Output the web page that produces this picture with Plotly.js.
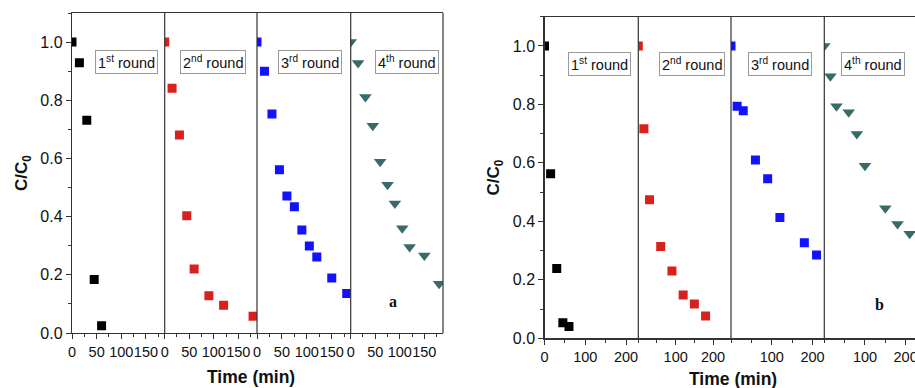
<!DOCTYPE html>
<html>
<head>
<meta charset="utf-8">
<script src="https://cdn.plot.ly/plotly-3.0.1.min.js"></script>
<style>html,body{margin:0;padding:0;background:#fff;}#chart{width:915px;height:388px;}</style>
</head>
<body>
<div id="chart"></div>
<script>
// ---- Data ----
const roundLabels = ['1<sup>st</sup> round', '2<sup>nd</sup> round', '3<sup>rd</sup> round', '4<sup>th</sup> round'];
const panelLetters = ['a', 'b'];

// Panel a
const timeA1 = [0, 15, 30, 45, 60];
const valA1 = [1.0, 0.929, 0.731, 0.184, 0.025];
const timeA2 = [0, 15, 30, 45, 60, 90, 120, 180];
const valA2 = [1.0, 0.841, 0.681, 0.403, 0.220, 0.128, 0.095, 0.058];
const timeA3 = [0, 15, 30, 45, 60, 75, 90, 105, 120, 150, 180];
const valA3 = [1.0, 0.900, 0.753, 0.561, 0.471, 0.434, 0.354, 0.299, 0.261, 0.189, 0.136];
const timeA4 = [0, 15, 30, 45, 60, 75, 90, 105, 120, 150, 180];
const valA4 = [1.0, 0.928, 0.811, 0.712, 0.589, 0.510, 0.445, 0.360, 0.296, 0.266, 0.169];

// Panel b
const timeB1 = [0, 15, 30, 45, 60];
const valB1 = [1.0, 0.563, 0.239, 0.053, 0.040];
const timeB2 = [0, 15, 30, 60, 90, 120, 150, 180];
const valB2 = [1.0, 0.717, 0.474, 0.314, 0.230, 0.148, 0.117, 0.076];
const timeB3 = [0, 15, 30, 60, 90, 120, 180, 210];
const valB3 = [1.0, 0.794, 0.778, 0.610, 0.546, 0.413, 0.327, 0.285];
const timeB4 = [0, 15, 30, 60, 80, 100, 150, 180, 210];
const valB4 = [1.0, 0.896, 0.794, 0.773, 0.699, 0.590, 0.445, 0.391, 0.358];

const yTicks = [0, 0.2, 0.4, 0.6, 0.8, 1.0];
const xTicksA = [0, 50, 100, 150];
const xTicksB1 = [0, 100, 200];
const xTicksB = [100, 200];

// ---- Styling ----
const W = 915, H = 388;
const FONT = 'Liberation Sans, Arial, sans-serif';
const colors = ['#000000', '#d8211d', '#1212ff', '#386b68'];
const symbols = ['square', 'square', 'square', 'triangle-down'];
const sizes = [9, 9, 9, 11];
const axisColor = '#333333';

// subpanel pixel edges
const edgesA = [72, 164.7, 257, 350.7, 443];
const edgesB = [544.5, 638.3, 731, 824.3, 915];
const rangesA = [188, 188, 188, 188];
const rangesB = [230, 248, 229, 223];
const yDomA = [(H - 333) / H, (H - 13) / H];
const yDomB = [(H - 338.3) / H, (H - 16.7) / H];

const seriesA = [[timeA1, valA1], [timeA2, valA2], [timeA3, valA3], [timeA4, valA4]];
const seriesB = [[timeB1, valB1], [timeB2, valB2], [timeB3, valB3], [timeB4, valB4]];

const data = [];
const layout = {
  width: W, height: H,
  margin: {l: 0, r: 0, t: 0, b: 0},
  paper_bgcolor: '#ffffff', plot_bgcolor: '#ffffff',
  showlegend: false,
  font: {family: FONT, color: '#111111'},
  shapes: [], annotations: []
};

function xAxisDef(edges, i, range, tickvals, minorStep, yName) {
  return {
    domain: [edges[i] / W, Math.min(edges[i + 1] / W, 1)],
    range: [0, range],
    anchor: yName,
    showgrid: false, zeroline: false,
    showline: true, mirror: true, linecolor: axisColor, linewidth: 1.2,
    ticks: 'outside', ticklen: 5, tickwidth: 1, tickcolor: axisColor,
    tickvals: tickvals, tickangle: 0,
    minor: {dtick: minorStep, tick0: 0, ticks: 'outside', ticklen: 3, tickcolor: axisColor, showgrid: false},
    tickfont: {family: FONT, size: 14.5, color: '#111111'},
    ticklabeloverflow: 'allow',
    automargin: false, fixedrange: true
  };
}

function yAxisDef(dom, xName) {
  return {
    domain: dom, range: [0, 1.1], anchor: xName,
    showgrid: false, zeroline: false,
    showline: true, linecolor: axisColor, linewidth: 1.2,
    ticks: 'outside', ticklen: 5, tickwidth: 1, tickcolor: axisColor,
    tickvals: yTicks, tickformat: '.1f',
    minor: {dtick: 0.1, tick0: 0, ticks: 'outside', ticklen: 3, tickcolor: axisColor, showgrid: false},
    tickfont: {family: FONT, size: 16, color: '#111111'},
    title: {text: 'C/C<sub>0</sub>', font: {family: FONT, size: 17, weight: 700, color: '#111111'}, standoff: 8},
    automargin: false, fixedrange: true
  };
}

// panel a: axes x..x4 with y ; panel b: x5..x8 with y2
for (let p = 0; p < 2; p++) {
  const edges = p === 0 ? edgesA : edgesB;
  const ranges = p === 0 ? rangesA : rangesB;
  const series = p === 0 ? seriesA : seriesB;
  const yName = p === 0 ? 'y' : 'y2';
  for (let i = 0; i < 4; i++) {
    const n = p * 4 + i + 1;
    const xName = n === 1 ? 'x' : 'x' + n;
    const xKey = n === 1 ? 'xaxis' : 'xaxis' + n;
    let tv, minor;
    if (p === 0) { tv = xTicksA; minor = 25; }
    else { tv = i === 0 ? xTicksB1 : xTicksB; minor = 50; }
    layout[xKey] = xAxisDef(edges, i, ranges[i], tv, minor, yName);
    data.push({
      type: 'scatter', mode: 'markers',
      x: series[i][0], y: series[i][1],
      xaxis: xName, yaxis: yName,
      marker: {symbol: symbols[i], size: sizes[i], color: colors[i], line: {width: 0}},
      cliponaxis: true, hoverinfo: 'x+y'
    });
    if (i > 0) {
      layout.shapes.push({type: 'line', xref: xName + ' domain', yref: yName + ' domain',
        x0: 0, x1: 0, y0: 0, y1: 1, line: {color: axisColor, width: 1.2}});
    }
    const boxX = p === 0 ? [0.586, 0.52, 0.57, 0.608][i] : [0.59, 0.58, 0.53, 0.54][i];
    const boxY = p === 0 ? 0.93 : 0.937;
    layout.annotations.push({
      xref: xName + ' domain', yref: yName, x: boxX, y: boxY,
      text: roundLabels[i], showarrow: false,
      font: {family: FONT, size: 14.5, color: '#111111'},
      bordercolor: '#9a9a9a', borderwidth: 1, borderpad: 2, bgcolor: '#ffffff',
      xanchor: 'center', yanchor: 'middle'
    });
  }
}
layout.shapes.push({type: 'line', xref: 'x4 domain', yref: 'y domain',
  x0: 1, x1: 1, y0: 0, y1: 1, line: {color: axisColor, width: 1.2}});

layout.yaxis = yAxisDef(yDomA, 'x');
layout.yaxis2 = yAxisDef(yDomB, 'x5');

// panel letters
layout.annotations.push({xref: 'x4 domain', yref: 'y', x: 0.46, y: 0.108, text: '<b>' + panelLetters[0] + '</b>',
  showarrow: false, font: {family: 'Liberation Serif, Times New Roman, serif', size: 16, color: '#111111'}});
layout.annotations.push({xref: 'x8 domain', yref: 'y2', x: 0.614, y: 0.114, text: '<b>' + panelLetters[1] + '</b>',
  showarrow: false, font: {family: 'Liberation Serif, Times New Roman, serif', size: 16, color: '#111111'}});

// shared x titles
layout.annotations.push({xref: 'paper', yref: 'paper', x: 250.8 / W, y: (H - 376.7) / H,
  text: 'Time (min)', showarrow: false, xanchor: 'center', yanchor: 'middle',
  font: {family: FONT, size: 17.5, weight: 700, color: '#111111'}});
layout.annotations.push({xref: 'paper', yref: 'paper', x: 733 / W, y: (H - 378.5) / H,
  text: 'Time (min)', showarrow: false, xanchor: 'center', yanchor: 'middle',
  font: {family: FONT, size: 17.5, weight: 700, color: '#111111'}});

Plotly.newPlot('chart', data, layout, {staticPlot: true, displayModeBar: false});
</script>
</body>
</html>
